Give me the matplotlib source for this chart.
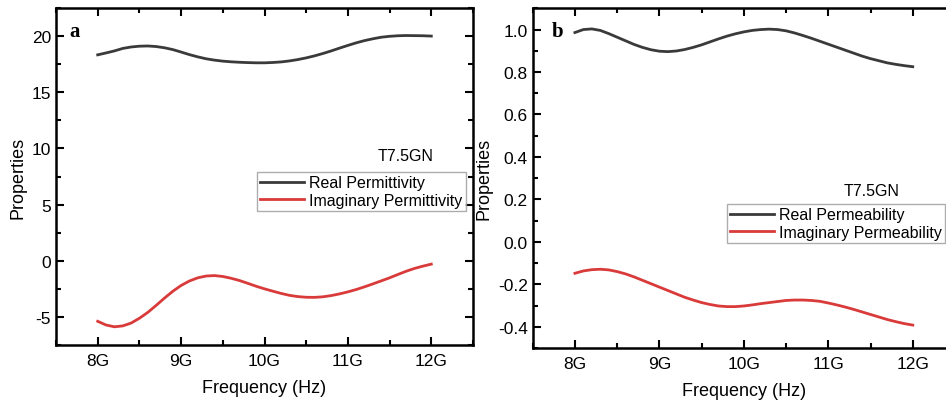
import numpy as np
import matplotlib
matplotlib.use("Agg")
import matplotlib.pyplot as plt
from matplotlib.ticker import MultipleLocator, FixedLocator, FormatStrFormatter

plt.rcParams['font.family'] = ['Liberation Sans', 'DejaVu Sans']
plt.rcParams['axes.unicode_minus'] = False

# frequency in GHz, 0.1 GHz steps
FREQ = [8.0, 8.1, 8.2, 8.3, 8.4, 8.5, 8.6, 8.7, 8.8, 8.9,
        9.0, 9.1, 9.2, 9.3, 9.4, 9.5, 9.6, 9.7, 9.8, 9.9,
        10.0, 10.1, 10.2, 10.3, 10.4, 10.5, 10.6, 10.7, 10.8, 10.9,
        11.0, 11.1, 11.2, 11.3, 11.4, 11.5, 11.6, 11.7, 11.8, 11.9, 12.0]

EPS_REAL = [18.33, 18.50, 18.68, 18.90, 19.03, 19.10, 19.12, 19.07, 18.96, 18.80,
            18.58, 18.35, 18.15, 17.98, 17.86, 17.77, 17.71, 17.67, 17.64, 17.62,
            17.62, 17.65, 17.70, 17.79, 17.91, 18.06, 18.24, 18.45, 18.68, 18.93,
            19.17, 19.40, 19.60, 19.76, 19.90, 19.98, 20.03, 20.05, 20.04, 20.03, 20.00]
EPS_IMAG = [-5.39, -5.72, -5.88, -5.80, -5.55, -5.12, -4.60, -3.98, -3.33, -2.72,
            -2.20, -1.80, -1.52, -1.36, -1.32, -1.40, -1.56, -1.76, -2.01, -2.27,
            -2.50, -2.71, -2.91, -3.08, -3.19, -3.25, -3.26, -3.21, -3.10, -2.95,
            -2.77, -2.56, -2.32, -2.06, -1.79, -1.52, -1.22, -0.93, -0.68, -0.48, -0.30]

MU_REAL = [0.986, 1.000, 1.003, 0.996, 0.981, 0.964, 0.947, 0.930, 0.916, 0.905,
           0.898, 0.896, 0.899, 0.906, 0.916, 0.928, 0.942, 0.956, 0.969, 0.980,
           0.989, 0.996, 1.000, 1.002, 1.000, 0.994, 0.984, 0.972, 0.959, 0.945,
           0.931, 0.917, 0.903, 0.889, 0.875, 0.863, 0.853, 0.843, 0.836, 0.830, 0.825]
MU_IMAG = [-0.148, -0.137, -0.131, -0.129, -0.132, -0.140, -0.151, -0.165, -0.181, -0.197,
           -0.213, -0.229, -0.245, -0.261, -0.274, -0.286, -0.295, -0.302, -0.305, -0.305,
           -0.302, -0.297, -0.291, -0.286, -0.281, -0.276, -0.274, -0.274, -0.276, -0.280,
           -0.288, -0.297, -0.307, -0.318, -0.330, -0.342, -0.354, -0.366, -0.376, -0.385, -0.392]

XTICKS = [8, 9, 10, 11, 12]
XTICKLABELS = ['8G', '9G', '10G', '11G', '12G']

REAL_COLOR = '#3a3a3a'
IMAG_COLOR = '#d93a3a'

TICKSIZE = 12.5
LABELSIZE = 13
LEGENDSIZE = 11.5


def style_axes(ax):
    for s in ax.spines.values():
        s.set_linewidth(1.8)
    ax.tick_params(which='both', direction='in', top=True, right=True, width=1.5,
                   labelsize=TICKSIZE)
    ax.tick_params(which='major', length=6)
    ax.tick_params(which='minor', length=3.5)
    ax.tick_params(axis='x', which='major', pad=6)
    ax.set_xlim(7.5, 12.5)
    ax.xaxis.set_major_locator(FixedLocator(XTICKS))
    ax.set_xticklabels(XTICKLABELS)
    ax.xaxis.set_minor_locator(MultipleLocator(0.5))
    ax.set_xlabel('Frequency (Hz)', fontsize=LABELSIZE, labelpad=8)
    ax.set_ylabel('Properties', fontsize=LABELSIZE)


def add_legend(ax, anchor):
    leg = ax.legend(loc='upper left', bbox_to_anchor=anchor, fontsize=LEGENDSIZE,
                    frameon=True, fancybox=False, borderaxespad=0, borderpad=0.2,
                    handlelength=2.8, handletextpad=0.3, labelspacing=0.15)
    leg.get_frame().set_edgecolor('#999999')
    leg.get_frame().set_linewidth(1.0)


fig = plt.figure(figsize=(9.46, 4.02), dpi=100)
ax1 = fig.add_axes([0.0592, 0.1393, 0.4408, 0.8383])
ax2 = fig.add_axes([0.5631, 0.1318, 0.4464, 0.845])

# panel a
ax1.plot(FREQ, EPS_REAL, color=REAL_COLOR, lw=2, label='Real Permittivity')
ax1.plot(FREQ, EPS_IMAG, color=IMAG_COLOR, lw=2, label='Imaginary Permittivity')
style_axes(ax1)
ax1.set_ylim(-7.5, 22.5)
ax1.yaxis.set_major_locator(MultipleLocator(5))
ax1.yaxis.set_minor_locator(MultipleLocator(2.5))
ax1.text(0.031, 0.932, 'a', transform=ax1.transAxes, fontsize=15, fontweight='bold',
         family='Liberation Serif', va='center', ha='left')
ax1.text(0.839, 0.561, 'T7.5GN', transform=ax1.transAxes, fontsize=LEGENDSIZE,
         ha='center', va='center')
add_legend(ax1, (0.481, 0.513))

# panel b
ax2.plot(FREQ, MU_REAL, color=REAL_COLOR, lw=2, label='Real Permeability')
ax2.plot(FREQ, MU_IMAG, color=IMAG_COLOR, lw=2, label='Imaginary Permeability')
style_axes(ax2)
ax2.set_ylim(-0.5, 1.1)
ax2.yaxis.set_major_locator(MultipleLocator(0.2))
ax2.yaxis.set_minor_locator(MultipleLocator(0.1))
ax2.yaxis.set_major_formatter(FormatStrFormatter('%.1f'))
ax2.text(0.045, 0.934, 'b', transform=ax2.transAxes, fontsize=15, fontweight='bold',
         family='Liberation Serif', va='center', ha='left')
ax2.text(0.803, 0.463, 'T7.5GN', transform=ax2.transAxes, fontsize=LEGENDSIZE,
         ha='center', va='center')
add_legend(ax2, (0.459, 0.424))

fig.savefig('out.png', dpi=100)
